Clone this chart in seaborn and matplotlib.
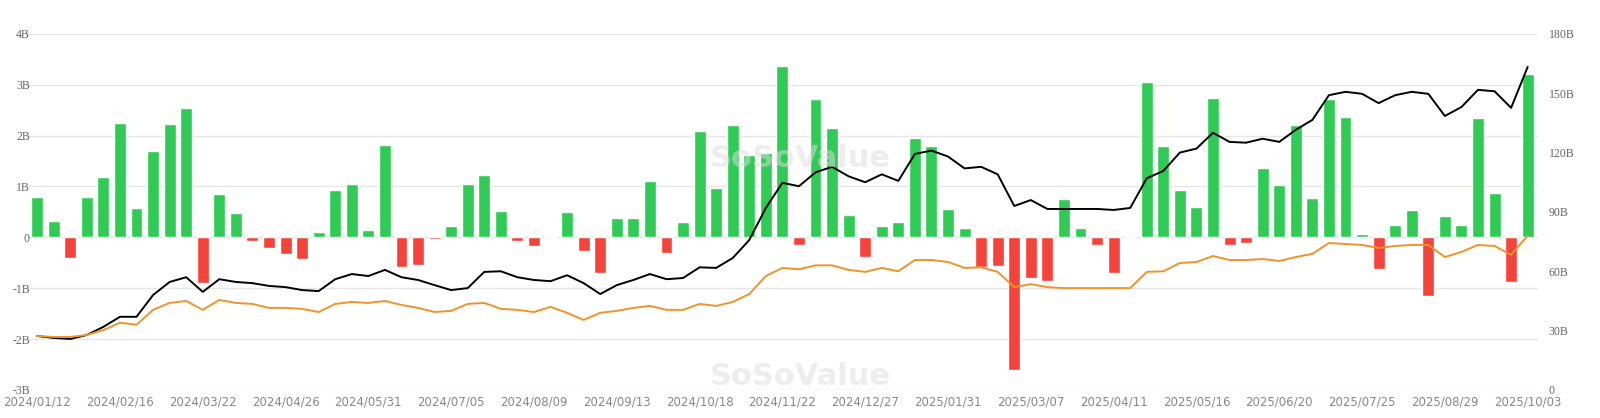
import numpy as np
import pandas as pd
import matplotlib
matplotlib.use("Agg")
import matplotlib.pyplot as plt
import seaborn as sns

# weekly net flow (B), left axis
flows = [0.8, 0.33, -0.4, 0.8, 1.18, 2.25, 0.57, 1.7, 2.22, 2.55,
         -0.9, 0.85, 0.47, -0.08, -0.2, -0.32, -0.43, 0.1, 0.93, 1.05,
         0.15, 1.82, -0.58, -0.55, -0.03, 0.23, 1.04, 1.23, 0.52, -0.08,
         -0.16, 0.02, 0.5, -0.27, -0.7, 0.39, 0.39, 1.1, -0.3, 0.3,
         2.1, 0.98, 2.2, 1.62, 1.65, 3.37, -0.15, 2.72, 2.15, 0.44,
         -0.38, 0.23, 0.3, 1.95, 1.8, 0.55, 0.18, -0.58, -0.57, -2.6,
         -0.8, -0.85, 0.75, 0.18, -0.15, -0.7, 0.01, 3.05, 1.8, 0.93,
         0.6, 2.73, -0.15, -0.12, 1.37, 1.02, 2.2, 0.77, 2.72, 2.37,
         0.06, -0.63, 0.25, 0.54, -1.16, 0.42, 0.24, 2.34, 0.88, -0.88,
         3.22]

# total net assets (B), right axis
assets = [27.3, 26.3, 25.8, 27.8, 31.9, 37, 37, 48, 54.6, 57,
          49.6, 56, 54.6, 54, 52.6, 52, 50.5, 50, 56, 58.6,
          57.6, 60.7, 57, 55.6, 53, 50.5, 51.5, 59.7, 60, 57,
          55.6, 55, 58, 54, 48.5, 53, 55.6, 58.6, 56, 56.6,
          62, 61.7, 66.7, 75.8, 92, 104.7, 103, 110, 112.8, 108,
          105, 109, 105.7, 119.3, 121, 118, 112, 112.8, 109, 93,
          96, 91.5, 91.5, 91.5, 91.5, 91, 92, 107, 110.7, 120,
          122, 130, 125.4, 125, 127, 125.4, 131.5, 136.5, 149, 150.7,
          149.7, 145, 149, 150.7, 149.7, 138.5, 143, 151.7, 151, 142.6,
          163.3]

# cumulative net inflow (B), right axis
cumulative = [27.3, 26.8, 26.8, 27.8, 30.3, 34, 33, 40.5, 44, 45,
              40.5, 45.5, 44, 43.5, 41.5, 41.5, 41, 39.4, 43.5, 44.5,
              44, 45, 43, 41.5, 39.4, 40, 43.5, 44, 41, 40.5,
              39.4, 42, 39, 35.4, 39, 40, 41.5, 42.5, 40.5, 40.5,
              43.5, 42.5, 44.5, 48.5, 57.6, 61.7, 61, 63, 63, 60.7,
              59.7, 61.7, 60, 65.7, 65.7, 64.7, 61.7, 62, 59.7, 52,
              53.5, 52, 51.5, 51.5, 51.5, 51.5, 51.5, 59.7, 60, 64.2,
              64.7, 67.7, 65.7, 65.7, 66.2, 65.2, 67.2, 68.8, 74.3, 73.8,
              73.3, 71.8, 72.8, 73.3, 73.3, 67.2, 69.8, 73.3, 72.8, 68.3,
              78]

dates = pd.date_range("2024-01-12", periods=len(flows), freq="7D")
df = pd.DataFrame({
    "idx": np.arange(len(flows)),
    "flow": flows,
    "assets": assets,
    "cumulative": cumulative,
    "sign": ["pos" if v >= 0 else "neg" for v in flows],
})

sns.set_theme(style="white")
fig = plt.figure(figsize=(16, 4.18), dpi=100)
ax = fig.add_axes([0.017, 0.067, 0.944, 0.852])

sns.barplot(data=df, x="idx", y="flow", hue="sign",
            palette={"pos": "#2fcb55", "neg": "#f4433a"},
            dodge=False, width=0.72, legend=False, ax=ax, saturation=1)
ax.set_ylim(-3, 4)
ax.set_yticks(range(-3, 5))
ax.set_yticklabels(["-3B", "-2B", "-1B", "0", "1B", "2B", "3B", "4B"])
ax.yaxis.grid(True, color="#e6e6e6", linewidth=1)
ax.set_axisbelow(True)
ax.set_xlim(-0.6, len(flows) - 0.4)
ticks = list(range(0, len(flows), 5))
ax.set_xticks(ticks)
ax.set_xticklabels([dates[i].strftime("%Y/%m/%d") for i in ticks])
ax.set_xlabel("")
ax.set_ylabel("")
ax.tick_params(axis="y", labelsize=8.5, colors="#666666", pad=-2, length=0)
ax.tick_params(axis="x", labelsize=8.5, colors="#888888", length=0, pad=4)
for t in ax.get_yticklabels():
    t.set_family("Liberation Serif")
for s in ax.spines.values():
    s.set_visible(False)

ax2 = ax.twinx()
sns.lineplot(data=df, x="idx", y="assets", color="black", linewidth=1.4, ax=ax2)
sns.lineplot(data=df, x="idx", y="cumulative", color="#f0932b", linewidth=1.4, ax=ax2)
ax2.set_ylim(0, 180)
ax2.set_yticks(range(0, 181, 30))
ax2.set_yticklabels(["0", "30B", "60B", "90B", "120B", "150B", "180B"])
ax2.set_ylabel("")
ax2.set_xlabel("")
ax2.tick_params(axis="y", labelsize=8.5, colors="#666666", length=0, pad=8)
for t in ax2.get_yticklabels():
    t.set_family("Liberation Serif")
for s in ax2.spines.values():
    s.set_visible(False)

# watermark
for xf, yf in [(0.5, 0.62), (0.5, 0.1)]:
    fig.text(xf, yf, "SoSoValue", fontsize=22, fontweight="bold",
             color="#dddddd", alpha=0.5, ha="center", va="center")

fig.savefig("out.png", dpi=100)
